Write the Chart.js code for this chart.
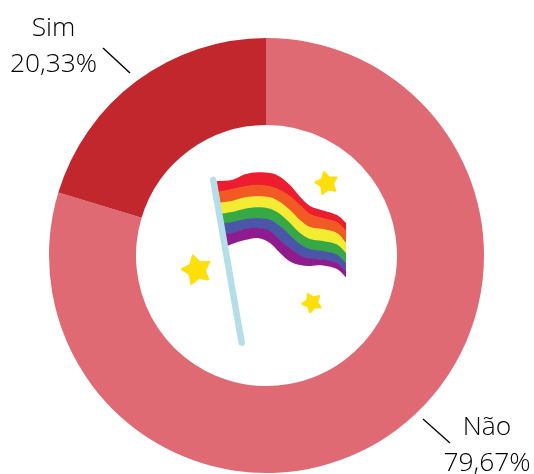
<!DOCTYPE html>
<html>
<head>
<meta charset="utf-8">
<style>html,body{margin:0;padding:0;background:#fff}canvas{display:block}</style>
<script src="https://cdn.jsdelivr.net/npm/chart.js@4"></script>
</head>
<body>
<canvas id="c" width="534" height="474"></canvas>
<script>
const categories = ["Não", "Sim"];
const values = [79.67, 20.33];
const sliceColors = ["#DF6A74", "#C1272D"];
const valueLabels = ["79,67%", "20,33%"];

const labelSpots = [{x:487,y1:427,y2:463},{x:53.5,y1:28,y2:64}];
const leaderLines = [[423,419,450,443],[103,48,130,73]];

const stripeColors = ["#ED1C2E","#F15A22","#F4EC33","#37A846","#4A57A8","#8E1C8E"];
const flagX = [208,218,232,245,258,270,280,290,300,310,323,337,346];
const flagEdges = [
  [181,181,180,174.3,172.3,173,176.7,185,196.7,206,210.5,215,223],
  [192,191.7,189,186.3,184.7,186.3,190,196,205,214,218,222,231],
  [203,202.7,201,197.3,196.3,197.3,202,210,220,227,229,233,243],
  [215,214,212,208.7,207.3,208.7,214,223,233,239,241,244.5,253],
  [225,224,222,219,218,219.7,226,235,244,249,251,254.5,263],
  [236,234,233,228.7,228,230.7,240,248,255,258.5,259.5,263,271],
  [250,250,244,240,238,243,253,261.5,265,266,265.5,269,277.5]
];
const poleEnds = [[213.3,180],[241.7,342.7]];
const stars = [[196.7,270,15,-15],[326.7,183.3,11.5,-13],[312,302.7,9.8,-25]];

function smoothForward(ctx,pts){
  for(let i=0;i<pts.length-1;i++){
    const p0=pts[Math.max(i-1,0)],p1=pts[i],p2=pts[i+1],p3=pts[Math.min(i+2,pts.length-1)];
    ctx.bezierCurveTo(p1[0]+(p2[0]-p0[0])/6,p1[1]+(p2[1]-p0[1])/6,p2[0]-(p3[0]-p1[0])/6,p2[1]-(p3[1]-p1[1])/6,p2[0],p2[1]);
  }
}
function drawFlag(ctx){
  const [p1,p2]=poleEnds;
  ctx.save();
  ctx.beginPath();
  ctx.moveTo(p1[0],p1[1]-20);ctx.lineTo(360,p1[1]-20);ctx.lineTo(360,p2[1]);ctx.lineTo(p2[0],p2[1]);ctx.closePath();
  ctx.clip();
  stripeColors.forEach((col,s)=>{
    const a=flagX.map((x,i)=>[x,flagEdges[s][i]]);
    const b=flagX.map((x,i)=>[x,flagEdges[s+1][i]+(s<5?0.5:0)]).reverse();
    ctx.beginPath();ctx.moveTo(a[0][0],a[0][1]);smoothForward(ctx,a);
    ctx.lineTo(b[0][0],b[0][1]);smoothForward(ctx,b);ctx.closePath();
    ctx.fillStyle=col;ctx.fill();
  });
  ctx.restore();
  ctx.beginPath();ctx.moveTo(p1[0],p1[1]);ctx.lineTo(p2[0],p2[1]);
  ctx.lineWidth=6.5;ctx.lineCap="round";ctx.strokeStyle="#B5DEE8";ctx.stroke();
  stars.forEach(st=>{
    const R=st[2],r=R*0.55,rot=st[3]*Math.PI/180;
    ctx.beginPath();
    for(let i=0;i<10;i++){
      const a=rot-Math.PI/2+i*Math.PI/5,d=i%2?r:R;
      const x=st[0]+d*Math.cos(a),y=st[1]+d*Math.sin(a);
      i?ctx.lineTo(x,y):ctx.moveTo(x,y);
    }
    ctx.closePath();ctx.fillStyle="#FFDF0A";ctx.strokeStyle="#FFDF0A";
    ctx.lineJoin="round";ctx.lineWidth=2;ctx.fill();ctx.stroke();
  });
}
const decor={id:"decor",afterDraw(chart){
  const ctx=chart.ctx;ctx.save();
  drawFlag(ctx);
  ctx.font='300 26.4px "Open Sans"';ctx.fillStyle="#000";ctx.textAlign="center";ctx.textBaseline="middle";
  categories.forEach((c,i)=>{
    const s=labelSpots[i];
    ctx.fillText(c,s.x,s.y1);ctx.fillText(valueLabels[i],s.x,s.y2);
    const l=leaderLines[i];
    ctx.beginPath();ctx.moveTo(l[0],l[1]);ctx.lineTo(l[2],l[3]);
    ctx.lineWidth=1.4;ctx.lineCap="butt";ctx.strokeStyle="#000";ctx.stroke();
  });
  ctx.restore();
}};
new Chart(document.getElementById("c"),{
  type:"doughnut",
  data:{labels:categories,datasets:[{data:values,backgroundColor:sliceColors,borderWidth:0}]},
  options:{
    responsive:false,animation:false,cutout:"60%",
    layout:{padding:{top:38,bottom:1,left:49,right:50}},
    plugins:{legend:{display:false},tooltip:{enabled:false}}
  },
  plugins:[decor]
});
</script>
</body>
</html>
